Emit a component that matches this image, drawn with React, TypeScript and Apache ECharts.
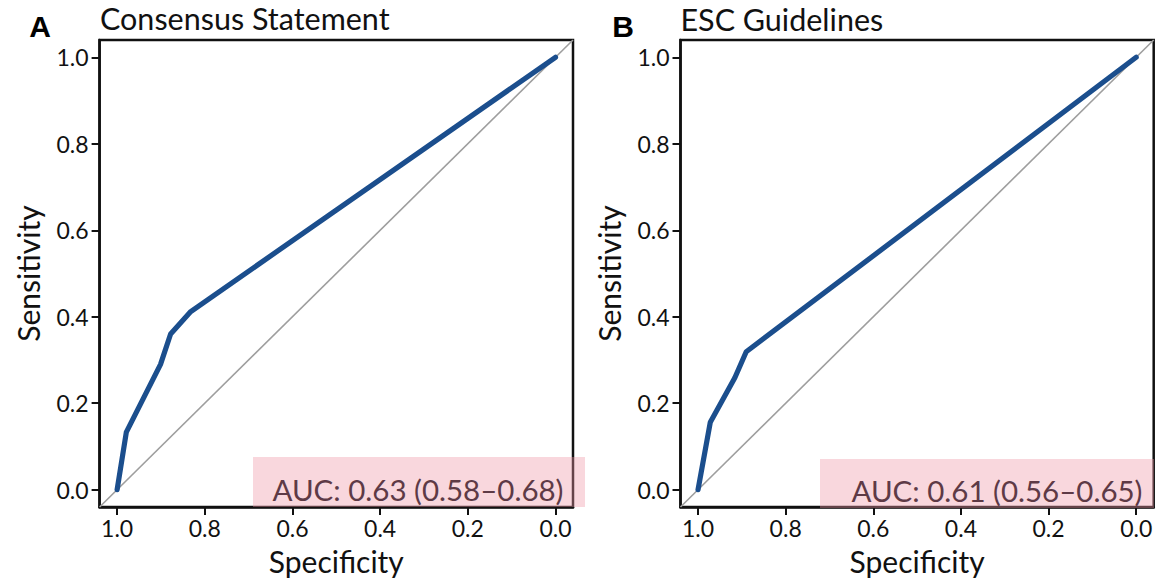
import React, { useEffect, useRef } from 'react';
import * as echarts from 'echarts';

const tickValues = [0, 0.2, 0.4, 0.6, 0.8, 1.0];
const panelLetters = ['A', 'B'];
const panelTitles = ['Consensus Statement', 'ESC Guidelines'];
const aucLabels = ['AUC: 0.63 (0.58\u20130.68)', 'AUC: 0.61 (0.56\u20130.65)'];

// Panel A ROC curve (specificity, sensitivity)
const specA = [1.0, 0.979, 0.901, 0.878, 0.832, 0.0];
const sensA = [0.0, 0.133, 0.29, 0.36, 0.412, 1.0];
// Panel B ROC curve
const specB = [1.0, 0.972, 0.916, 0.89, 0.0];
const sensB = [0.0, 0.156, 0.259, 0.319, 1.0];
// Chance diagonal
const diagSpec = [1.04, -0.04];
const diagSens = [-0.04, 1.04];

const FONT = 'Lato';
const INK = '#111111';

export default function App() {
  const ref = useRef<HTMLDivElement>(null);
  useEffect(() => {
    const chart = echarts.init(ref.current!, null, { renderer: 'svg' });
    const grids = [
      { left: 99.6, top: 40, width: 473.4, height: 470 },
      { left: 680.5, top: 40, width: 473.2, height: 470 },
    ];
    const zip = (a: number[], b: number[]) => a.map((v, i) => [v, b[i]]);
    const xAxes = grids.map((_, i) => ({
      type: 'value',
      gridIndex: i,
      min: -0.04,
      max: 1.04,
      inverse: true,
      name: 'Specificity',
      nameLocation: 'middle',
      nameGap: 39,
      nameTextStyle: { fontFamily: FONT, fontSize: 30, color: INK },
      axisLine: { show: true, onZero: false, lineStyle: { color: INK, width: 2.5 } },
      axisTick: { show: true, length: 8, lineStyle: { color: INK, width: 2 }, customValues: tickValues },
      axisLabel: {
        customValues: tickValues,
        formatter: (v: number) => v.toFixed(1),
        fontFamily: FONT,
        fontSize: 23,
        color: INK,
        margin: 9,
      },
      splitLine: { show: false },
    }));
    const yAxes = grids.map((_, i) => ({
      type: 'value',
      gridIndex: i,
      min: -0.04,
      max: 1.04,
      name: 'Sensitivity',
      nameLocation: 'middle',
      nameGap: 57,
      nameTextStyle: { fontFamily: FONT, fontSize: 30, color: INK },
      axisLine: { show: true, onZero: false, lineStyle: { color: INK, width: 2.5 } },
      axisTick: { show: true, length: 8, lineStyle: { color: INK, width: 2 }, customValues: tickValues },
      axisLabel: {
        customValues: tickValues,
        formatter: (v: number) => v.toFixed(1),
        fontFamily: FONT,
        fontSize: 23,
        color: INK,
        margin: 11,
      },
      splitLine: { show: false },
    }));
    const curves = [zip(specA, sensA), zip(specB, sensB)];
    const series: any[] = [];
    grids.forEach((_, i) => {
      series.push({
        type: 'line',
        xAxisIndex: i,
        yAxisIndex: i,
        data: zip(diagSpec, diagSens),
        showSymbol: false,
        lineStyle: { color: '#9e9e9e', width: 1.6 },
        z: 2,
      });
      series.push({
        type: 'line',
        xAxisIndex: i,
        yAxisIndex: i,
        data: curves[i],
        showSymbol: false,
        lineStyle: { color: '#1b4e8d', width: 5.2, join: 'round', cap: 'round' },
        z: 3,
      });
    });
    const pink = 'rgba(238,150,165,0.38)';
    const graphic: any[] = [
      { type: 'rect', shape: { x: 253, y: 457, width: 332, height: 50 }, style: { fill: pink }, z: 1 },
      { type: 'rect', shape: { x: 820, y: 459, width: 334, height: 49 }, style: { fill: pink }, z: 1 },
      { type: 'text', x: 40, y: 26, style: { text: panelLetters[0], font: 'bold 30px "Liberation Sans", Arial, sans-serif', fill: '#000', align: 'center', verticalAlign: 'middle' } },
      { type: 'text', x: 623, y: 26, style: { text: panelLetters[1], font: 'bold 30px "Liberation Sans", Arial, sans-serif', fill: '#000', align: 'center', verticalAlign: 'middle' } },
      { type: 'text', x: 100, y: 18, style: { text: panelTitles[0], font: `30.5px ${FONT}`, fill: INK, align: 'left', verticalAlign: 'middle' } },
      { type: 'text', x: 680.5, y: 18.5, style: { text: panelTitles[1], font: `30.5px ${FONT}`, fill: INK, align: 'left', verticalAlign: 'middle' } },
      { type: 'text', x: 563.5, y: 489, z: 10, style: { text: aucLabels[0], font: `29.5px ${FONT}`, fill: '#5e3a46', align: 'right', verticalAlign: 'middle' } },
      { type: 'text', x: 1142.5, y: 490, z: 10, style: { text: aucLabels[1], font: `29.5px ${FONT}`, fill: '#5e3a46', align: 'right', verticalAlign: 'middle' } },
    ];
    chart.setOption({
      animation: false,
      backgroundColor: '#ffffff',
      grid: grids.map((g) => ({ ...g, show: true, borderColor: INK, borderWidth: 2.5, backgroundColor: 'transparent' })),
      xAxis: xAxes,
      yAxis: yAxes,
      series,
      graphic,
    });
    return () => chart.dispose();
  }, []);
  return (
    <div
      ref={ref}
      style={{ position: 'absolute', left: 0, top: 0, width: 1165, height: 581, background: '#fff' }}
    />
  );
}
